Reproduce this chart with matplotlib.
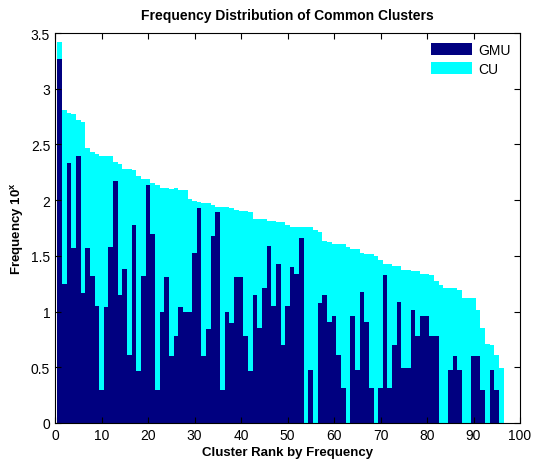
import numpy as np
import matplotlib
matplotlib.use("Agg")
import matplotlib.pyplot as plt

plt.rcParams['font.family'] = ['Liberation Sans', 'DejaVu Sans']
plt.rcParams['mathtext.fontset'] = 'custom'
plt.rcParams['mathtext.bf'] = 'Liberation Sans:bold'
plt.rcParams['mathtext.rm'] = 'Liberation Sans'

# log10 frequency of each common cluster, ranked
cu = [3.42, 2.81, 2.78, 2.77, 2.72, 2.70, 2.47, 2.43, 2.41, 2.40,
      2.40, 2.40, 2.34, 2.32, 2.28, 2.28, 2.27, 2.22, 2.19, 2.19,
      2.15, 2.14, 2.11, 2.11, 2.10, 2.11, 2.09, 2.09, 2.01, 1.99,
      1.98, 1.97, 1.97, 1.96, 1.94, 1.94, 1.94, 1.93, 1.91, 1.90,
      1.90, 1.89, 1.83, 1.83, 1.83, 1.81, 1.81, 1.80, 1.80, 1.78,
      1.76, 1.76, 1.76, 1.76, 1.76, 1.73, 1.71, 1.63, 1.62, 1.61,
      1.61, 1.61, 1.58, 1.56, 1.56, 1.53, 1.52, 1.52, 1.50, 1.46,
      1.43, 1.43, 1.41, 1.41, 1.37, 1.37, 1.36, 1.36, 1.34, 1.34,
      1.33, 1.27, 1.24, 1.21, 1.21, 1.21, 1.19, 1.12, 1.12, 1.12,
      1.01, 0.85, 0.71, 0.70, 0.61, 0.49]

gmu = [3.27, 1.25, 2.33, 1.57, 2.40, 1.17, 1.57, 1.32, 1.05, 0.30,
       1.04, 1.58, 2.17, 1.15, 1.38, 0.61, 1.78, 0.47, 1.32, 2.14,
       1.70, 0.30, 1.00, 1.31, 0.60, 0.78, 1.04, 1.00, 1.00, 1.53,
       1.93, 0.60, 0.84, 1.68, 1.89, 0.30, 1.00, 0.90, 1.31, 1.31,
       0.78, 0.47, 1.15, 0.85, 1.21, 1.59, 1.05, 1.43, 0.70, 1.05,
       1.40, 1.34, 1.66, 0.00, 0.48, 0.00, 1.08, 1.15, 0.91, 0.96,
       0.61, 0.31, 0.00, 0.96, 0.48, 1.18, 0.91, 0.31, 0.00, 0.31,
       1.33, 0.31, 0.70, 1.09, 0.49, 0.49, 1.01, 0.78, 0.96, 0.96,
       0.78, 0.78, 0.00, 0.00, 0.48, 0.60, 0.48, 0.00, 0.00, 0.60,
       0.60, 0.30, 0.00, 0.48, 0.30, 0.00]

rank = np.arange(1, len(cu) + 1)

fig = plt.figure(figsize=(5.34, 4.60), dpi=100)
ax = fig.add_axes([55 / 534, 36 / 460, 465 / 534, 390 / 460])

b_cu = ax.bar(rank, cu, width=1.0, color='#00ffff', linewidth=0)
b_gmu = ax.bar(rank, gmu, width=1.0, color='#000080', linewidth=0)

ax.set_xlim(0, 100)
ax.set_ylim(0, 3.5)
ax.set_xticks(np.arange(0, 101, 10))
ax.set_yticks(np.arange(0, 3.51, 0.5))
ax.set_yticklabels(['0', '0.5', '1', '1.5', '2', '2.5', '3', '3.5'])
ax.tick_params(direction='in', top=True, right=True, labelsize=10, length=4)

ax.set_title('Frequency Distribution of Common Clusters', fontsize=10, fontweight='bold', pad=10)
ax.set_xlabel('Cluster Rank by Frequency', fontsize=9.5, fontweight='bold', labelpad=3)
ax.set_ylabel(r'Frequency 10$^\mathbf{x}$', fontsize=9.5, fontweight='bold')
ax.yaxis.set_label_coords(-0.062, 0.5)

leg = ax.legend([b_gmu, b_cu], ['GMU', 'CU'], loc='upper right', frameon=False,
                fontsize=10, handlelength=3.0, handleheight=1.0, labelspacing=0.35,
                handletextpad=0.4, borderaxespad=0.3)

fig.savefig('out.png', dpi=100)
